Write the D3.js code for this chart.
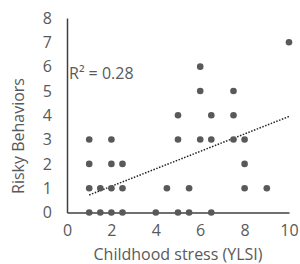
<!DOCTYPE html>
<html>
<head>
<meta charset="utf-8">
<script src="https://cdn.jsdelivr.net/npm/d3@7"></script>
<style>
  body { margin: 0; background: #fff; }
  #chart { width: 300px; height: 264px; }
  text { font-family: "Open Sans", sans-serif; fill: #595959; }
</style>
</head>
<body>
<div id="chart"></div>
<script>
// childhood stress score (YLSI) vs risky behaviors count
const stressX = [1, 1, 1, 1, 1.5, 1.5, 2, 2, 2, 2, 2.5, 2.5, 2.5,
    4, 4.5, 5, 5, 5, 5.5, 5.5, 6, 6, 6, 6.5, 6.5, 6.5,
    7.5, 7.5, 7.5, 8, 8, 8, 9, 10];
const riskyY = [0, 1, 2, 3, 0, 1, 0, 1, 2, 3, 0, 1, 2,
    0, 1, 0, 3, 4, 0, 1, 3, 5, 6, 0, 3, 4,
    3, 4, 5, 1, 2, 3, 1, 7];

const xTicks = [0, 2, 4, 6, 8, 10];
const yTicks = [0, 1, 2, 3, 4, 5, 6, 7, 8];

// linear trend as drawn (Excel trendline)
const trendX = [1, 10];
const trendY = [0.72, 3.95];
const r2Label = "R² = 0.28";

const data = stressX.map(function (d, i) {
    return { x: d, y: riskyY[i] };
});

var width = 300, height = 264;
var margin = { left: 67, right: 10, top: 18, bottom: 52 };

var svg = d3.select("#chart")
    .append("svg")
    .attr("width", width)
    .attr("height", height);

var xScale = d3.scaleLinear().domain([0, 10]).range([margin.left, 289]);
var yScale = d3.scaleLinear().domain([0, 8]).range([212.5, margin.top]);

// axes (no tick marks, just labels)
svg.append("g")
    .attr("transform", `translate(0,${yScale(0)})`)
    .call(d3.axisBottom(xScale).tickValues(xTicks).tickSize(0).tickPadding(12))
    .call(g => g.select(".domain").attr("stroke", "#404040").attr("stroke-width", 1.5))
    .selectAll("text")
    .style("font-size", "16px");

svg.append("g")
    .attr("transform", `translate(${xScale(0)},0)`)
    .call(d3.axisLeft(yScale).tickValues(yTicks).tickSize(0).tickPadding(15))
    .call(g => g.select(".domain").attr("stroke", "#404040").attr("stroke-width", 1.5))
    .selectAll("text")
    .style("font-size", "16px");

svg.selectAll(".tick text").attr("fill", "#595959");

// trendline
svg.append("line")
    .attr("x1", xScale(trendX[0]))
    .attr("y1", yScale(trendY[0]))
    .attr("x2", xScale(trendX[1]))
    .attr("y2", yScale(trendY[1]))
    .attr("stroke", "#222")
    .attr("stroke-width", 1.5)
    .attr("stroke-dasharray", "1.5,1.5");

// points
svg.selectAll("circle")
    .data(data)
    .join("circle")
    .attr("cx", d => xScale(d.x))
    .attr("cy", d => yScale(d.y))
    .attr("r", 3.3)
    .attr("fill", "#595959");

svg.append("text")
    .attr("x", 69)
    .attr("y", 79)
    .style("font-size", "16px")
    .text(r2Label);

// axis titles
svg.append("text")
    .attr("x", 178)
    .attr("y", 260)
    .attr("text-anchor", "middle")
    .style("font-size", "16px")
    .text("Childhood stress (YLSI)");

svg.append("text")
    .attr("transform", "translate(24,136) rotate(-90)")
    .attr("text-anchor", "middle")
    .style("font-size", "16px")
    .text("Risky Behaviors");
</script>
</body>
</html>
